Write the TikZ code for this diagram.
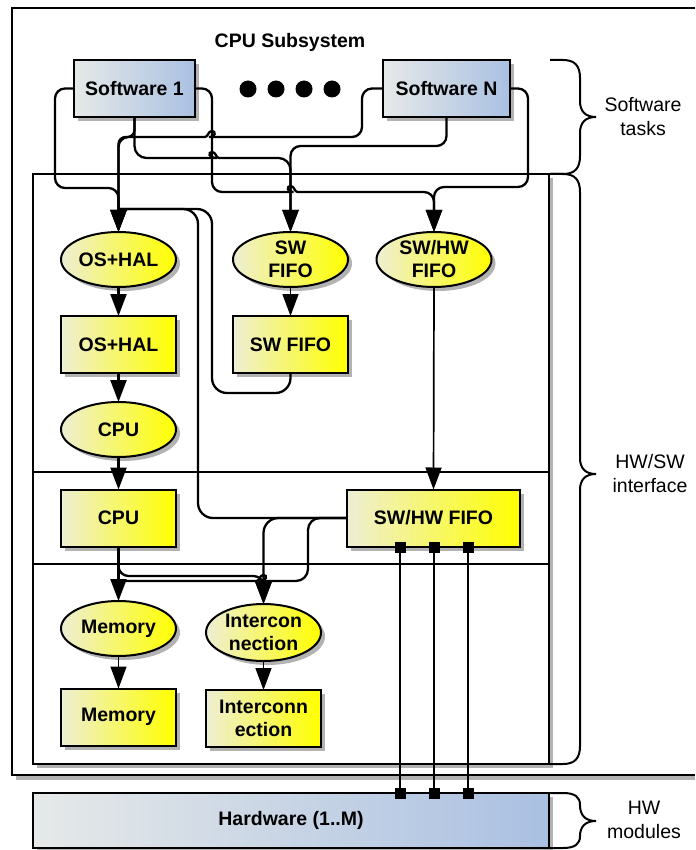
\documentclass[tikz,border=0pt]{standalone}
\usepackage{fontspec}
\setmainfont{Liberation Sans}
\usetikzlibrary{arrows.meta,shapes.geometric,shadows}
\definecolor{bluelite}{RGB}{230,233,232}
\definecolor{bluedark}{RGB}{170,192,226}
\definecolor{yellite}{RGB}{238,238,212}
\definecolor{yelmid}{RGB}{252,252,90}
\definecolor{shgray}{RGB}{178,178,178}
\tikzset{
  every node/.style={font=\fontsize{19.5}{23}\selectfont\bfseries, align=center, inner sep=0pt, outer sep=0pt},
  shad/.style={drop shadow={shadow xshift=4pt, shadow yshift=-4pt, fill=shgray, opacity=1}},
  yrect/.style={rectangle, draw, line width=2pt, minimum width=115pt, minimum height=57pt, left color=yellite, middle color=yelmid, right color=yellow, shad},
  yellipse/.style={ellipse, draw, line width=2pt, minimum width=115pt, minimum height=55pt, inner sep=-4pt, left color=yellite, middle color=yelmid, right color=yellow, shad},
  brect/.style={rectangle, draw, line width=2pt, minimum height=57pt, left color=bluelite, right color=bluedark, shad},
  port/.style={rectangle, fill=black, minimum size=11pt},
  conn/.style={line width=2.3pt, rounded corners=10pt},
  thinconn/.style={line width=1.4pt},
  midconn/.style={line width=1.7pt},
  arrowto/.style={-{Triangle[length=22pt,width=16pt]}},
  lbl/.style={font=\fontsize{19.5}{24}\selectfont},
  frame/.style={line width=2pt},
  bracepath/.style={line width=2pt},
}
\begin{document}
\begin{tikzpicture}[x=1pt,y=-1pt]
\useasboundingbox (0,0) rectangle (695,850);
% outer box
\fill[shgray] (16,775) rectangle (695,780);
\fill[white] (12,8) rectangle (695,775);
\draw[frame] (695,8) -- (12,8) -- (12,775) -- (695,775);
% inner box
\fill[shgray] (37,178) rectangle (553,768);
\draw[frame, fill=white] (33,174) rectangle (549,764);
\draw[frame] (33,472) -- (549,472);
\draw[frame] (33,564) -- (549,564);

\node (title) at (290,42) {CPU Subsystem};
\node[brect, minimum width=121pt] (sw1) at (134.5,88.5) {Software 1};
\node[brect, minimum width=127pt] (swn) at (446.5,88.5) {Software N};
\foreach \x in {248,276,304,332} \fill (\x,89) circle[radius=8.5];

\node[yellipse] (eos) at (118.5,259.5) {OS+HAL};
\node[yellipse] (eswf) at (290.5,259.5) {SW\\FIFO};
\node[yellipse] (eshf) at (434,259.5) {SW/HW\\FIFO};
\node[yrect] (ros) at (118.5,344.5) {OS+HAL};
\node[yrect] (rswf) at (290.5,344.5) {SW FIFO};
\node[yellipse] (ecpu) at (118.5,429.5) {CPU};
\node[yrect] (rcpu) at (118.5,518) {CPU};
\node[yrect, minimum width=173pt] (rshf) at (433.5,518) {SW/HW FIFO};
\node[yellipse] (emem) at (118.5,628.5) {Memory};
\node[yellipse, minimum height=57pt] (eic) at (263.5,632.5) {Intercon\\nection};
\node[yrect] (rmem) at (118.5,717) {Memory};
\node[yrect] (ric) at (263.5,718.5) {Interconn\\ection};
\node[brect, minimum width=516pt, minimum height=55pt] (hw) at (291,820.5) {Hardware (1..M)};

\node[port] (p1) at (400,547) {};
\node[port] (p2) at (434,547) {};
\node[port] (p3) at (468,547) {};
\node[port] (q1) at (400,793) {};
\node[port] (q2) at (434,793) {};
\node[port] (q3) at (468,793) {};
\draw[line width=2.2pt] (p1.center) -- (q1.center);
\draw[line width=2.2pt] (p2.center) -- (q2.center);
\draw[line width=2.2pt] (p3.center) -- (q3.center);

\coordinate (jos) at (118.5,209);
\coordinate (jmem) at (118.5,581);
% software to OS+HAL
\draw[conn, arrowto] (sw1.west) -- (55,88.5) -- (55,188) -- (118.5,188) -- (eos.north);
\draw[conn, rounded corners=7pt, arrowto] (sw1.south) -- (134.5,137) -- (118.5,137) -- (eos.north);
\draw[conn, arrowto] (swn.west) -- (362,88.5) -- (362,137) -- (219,137) [sharp corners]
   .. controls (216,137) and (216,131) .. (212,131) .. controls (208,131) and (208,137) .. (205,137)
   -- (190,137) [rounded corners=10pt] -- (118.5,137) -- (eos.north);
% software to SW FIFO
\draw[conn, rounded corners=12pt, arrowto] (sw1.south) -- (134.5,158) -- (205,158) [sharp corners]
   .. controls (208,158) and (208,152) .. (212,152) .. controls (216,152) and (216,158) .. (219,158)
   -- (235,158) [rounded corners=12pt] -- (290.5,158) -- (eswf.north);
\draw[conn, arrowto] (swn.south) -- (446.5,146) -- (290.5,146) -- (eswf.north);
% software to SW/HW FIFO
\draw[conn, arrowto] (sw1.east) -- (212,88.5) -- (212,192) -- (283.5,192) [sharp corners]
   .. controls (286.5,192) and (286.5,186) .. (290.5,186) .. controls (294.5,186) and (294.5,192) .. (297.5,192)
   -- (320,192) [rounded corners=10pt] -- (434,192) -- (eshf.north);
\draw[conn, arrowto] (swn.east) -- (528,88.5) -- (528,187) -- (434,187) -- (eshf.north);
% chain
\draw[conn, arrowto] (eos.south) -- (ros.north);
\draw[conn, arrowto] (ros.south) -- (ecpu.north);
\draw[conn, arrowto] (ecpu.south) -- (rcpu.north);
\draw[conn, arrowto] (rcpu.south) -- (emem.north);
\draw[thinconn, arrowto] (eswf.south) -- (rswf.north);
\draw[midconn, arrowto] (eshf.south) -- (rshf.north);
\draw[thinconn, arrowto] (emem.south) -- (rmem.north);
\draw[thinconn, arrowto] (eic.south) -- (ric.north);
% loops
\draw[conn, rounded corners=15pt] (rswf.south) -- (290.5,393) -- (212,393) -- (212,209) -- (jos);
\draw[conn, rounded corners=15pt] (rshf.west) -- (198,518) -- (198,209) -- (jos);
\draw[conn, arrowto] (rcpu.south) -- (118.5,576) -- (263.5,576) -- (eic.north);
\draw[conn, rounded corners=15pt, arrowto] (rshf.west) -- (263.5,518) -- (eic.north);
\draw[conn, rounded corners=12pt] (rshf.west) -- (308,518) -- (308,581) -- (270.5,581) [sharp corners]
   .. controls (267.5,581) and (267.5,575) .. (263.5,575) .. controls (259.5,575) and (259.5,581) .. (256.5,581)
   -- (jmem);

% braces
\draw[bracepath] (550,60) -- (563,60) .. controls (575,60) and (580,66) .. (580,78) -- (580,101) .. controls (580,111) and (585,117) .. (596,117) .. controls (585,117) and (580,123) .. (580,133) -- (580,156) .. controls (580,168) and (575,174) .. (563,174) -- (550,174);
\draw[bracepath] (550,174) -- (563,174) .. controls (575,174) and (580,180) .. (580,192) -- (580,458) .. controls (580,468) and (585,474) .. (596,474) .. controls (585,474) and (580,480) .. (580,490) -- (580,746) .. controls (580,758) and (575,764) .. (563,764) -- (550,764);
\draw[bracepath] (550,793) -- (563,793) .. controls (575,793) and (580,797) .. (580,805) .. controls (580,815) and (585,821) .. (596,821) .. controls (585,821) and (580,827) .. (580,836) .. controls (580,844) and (575,848) .. (563,848) -- (550,848);
\node[lbl] (ltask) at (643,117) {Software\\tasks};
\node[lbl] (lif) at (650,474) {HW/SW\\interface};
\node[lbl] (lhw) at (644,820) {HW\\modules};
\end{tikzpicture}
\end{document}
